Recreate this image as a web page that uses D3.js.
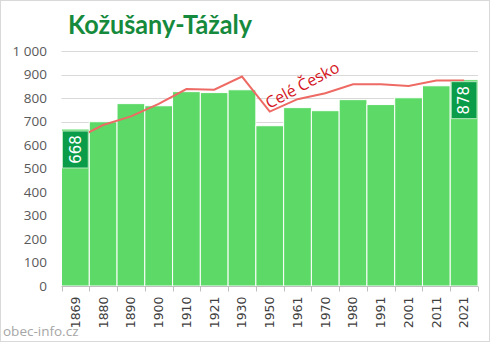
<!DOCTYPE html>
<html><head><meta charset="utf-8">
<script src="https://cdn.jsdelivr.net/npm/d3@7"></script>
<style>body{margin:0;background:#fff}svg{display:block}</style>
</head><body>
<script>
const years = ["1869","1880","1890","1900","1910","1921","1930","1950","1961","1970","1980","1991","2001","2011","2021"];
const population = [668,699,776,767,827,823,835,682,759,746,793,772,801,852,878];
const czechia = [625,685,722,775,838,835,891,742,795,820,858,858,851,874,874];
const yTicks = [0,100,200,300,400,500,600,700,800,900,1000];
const title = "Kožušany-Tážaly";
const lineLabel = "Celé Česko";
const source = "obec-info.cz";

const W = 492, H = 343;
const svg = d3.select("body").append("svg").attr("width", W).attr("height", H);

const x = d3.scaleBand().domain(years).range([61.5, 478]).padding(0);
const y = d3.scaleLinear().domain([0, 1000]).range([286, 51]);

// frame
svg.append("rect").attr("x",0.5).attr("y",0.5).attr("width",489).attr("height",341)
  .attr("fill","none").attr("stroke","#d9d9d9");

// gridlines
svg.append("g").selectAll("line").data(yTicks.slice(1)).join("line")
  .attr("x1", 61.5).attr("x2", 478).attr("y1", d=>Math.round(y(d))+0.5).attr("y2", d=>Math.round(y(d))+0.5)
  .attr("stroke", "#d9d9d9").attr("stroke-width",1);

// y labels
svg.append("g").selectAll("text").data(yTicks).join("text")
  .attr("x", 47).attr("y", d=>y(d)).attr("dy","0.35em").attr("text-anchor","end")
  .attr("font-family","'Open Sans', 'Liberation Sans', sans-serif").attr("font-size",13.5).attr("fill","#595959")
  .text(d=>d3.format(",")(d).replace(/,/g," "));

// bars
svg.append("g").selectAll("rect").data(years).join("rect")
  .attr("x", d=>x(d)).attr("width", x.bandwidth())
  .attr("y", (d,i)=>y(population[i])).attr("height", (d,i)=>y(0)-y(population[i]))
  .attr("fill","#5cd966").attr("stroke","#ffffff").attr("stroke-width",1);

// x axis
const xAxis = svg.append("g").attr("transform",`translate(0,${y(0)+0.5})`);
xAxis.append("line").attr("x1",61.5).attr("x2",478).attr("stroke","#bfbfbf");
const bounds = years.map(d=>x(d)).concat([x(years[years.length-1])+x.bandwidth()]);
xAxis.selectAll("line.tk").data(bounds).join("line").attr("class","tk")
  .attr("x1",d=>Math.round(d)+0.5).attr("x2",d=>Math.round(d)+0.5).attr("y1",0).attr("y2",5).attr("stroke","#bfbfbf");
xAxis.selectAll("text").data(years).join("text")
  .attr("transform", d=>`translate(${x(d)+x.bandwidth()/2},10) rotate(-90)`)
  .attr("text-anchor","end").attr("dy","0.35em")
  .attr("font-family","'DejaVu Sans', sans-serif").attr("font-size",12.5).attr("fill","#404040")
  .text(d=>d);

// Czech line
const line = d3.line().x((d,i)=>x(years[i])+x.bandwidth()/2).y(d=>y(d));
svg.append("path").datum(czechia).attr("d", line)
  .attr("fill","none").attr("stroke","#ee6a64").attr("stroke-width",2);

svg.append("text").attr("transform","translate(305,90) rotate(-28)")
  .attr("text-anchor","middle").attr("font-family","'Open Sans', 'Liberation Sans', sans-serif")
  .attr("font-size",16).attr("fill","#d4141c").text(lineLabel);

// value labels
function valLabel(i, yTop){
  const cx = x(years[i]) + x.bandwidth()/2;
  const g = svg.append("g");
  g.append("rect").attr("x", x(years[i])+1).attr("y", yTop).attr("width", x.bandwidth()-2).attr("height", 37)
    .attr("fill","#0a9c48").attr("stroke","#b8e8bf").attr("stroke-width",1);
  g.append("text").attr("transform",`translate(${cx},${yTop+18.5}) rotate(-90)`)
    .attr("text-anchor","middle").attr("dy","0.35em")
    .attr("font-family","'DejaVu Sans', sans-serif").attr("font-size",15).attr("fill","#ffffff")
    .text(population[i]);
}
valLabel(0, y(population[0]) + 2);
valLabel(14, y(population[14]) + 2);

// title
svg.append("text").attr("x",68).attr("y",34)
  .attr("font-family","Lato, 'Open Sans', sans-serif").attr("font-weight","bold").attr("font-size",27)
  .attr("fill","#168a3c").attr("textLength",184).attr("lengthAdjust","spacingAndGlyphs").text(title);

// source
svg.append("text").attr("x",3).attr("y",336)
  .attr("font-family","'Open Sans', 'Liberation Sans', sans-serif").attr("font-size",13.5).attr("fill","#a6a6a6")
  .text(source);
</script>
</body></html>
